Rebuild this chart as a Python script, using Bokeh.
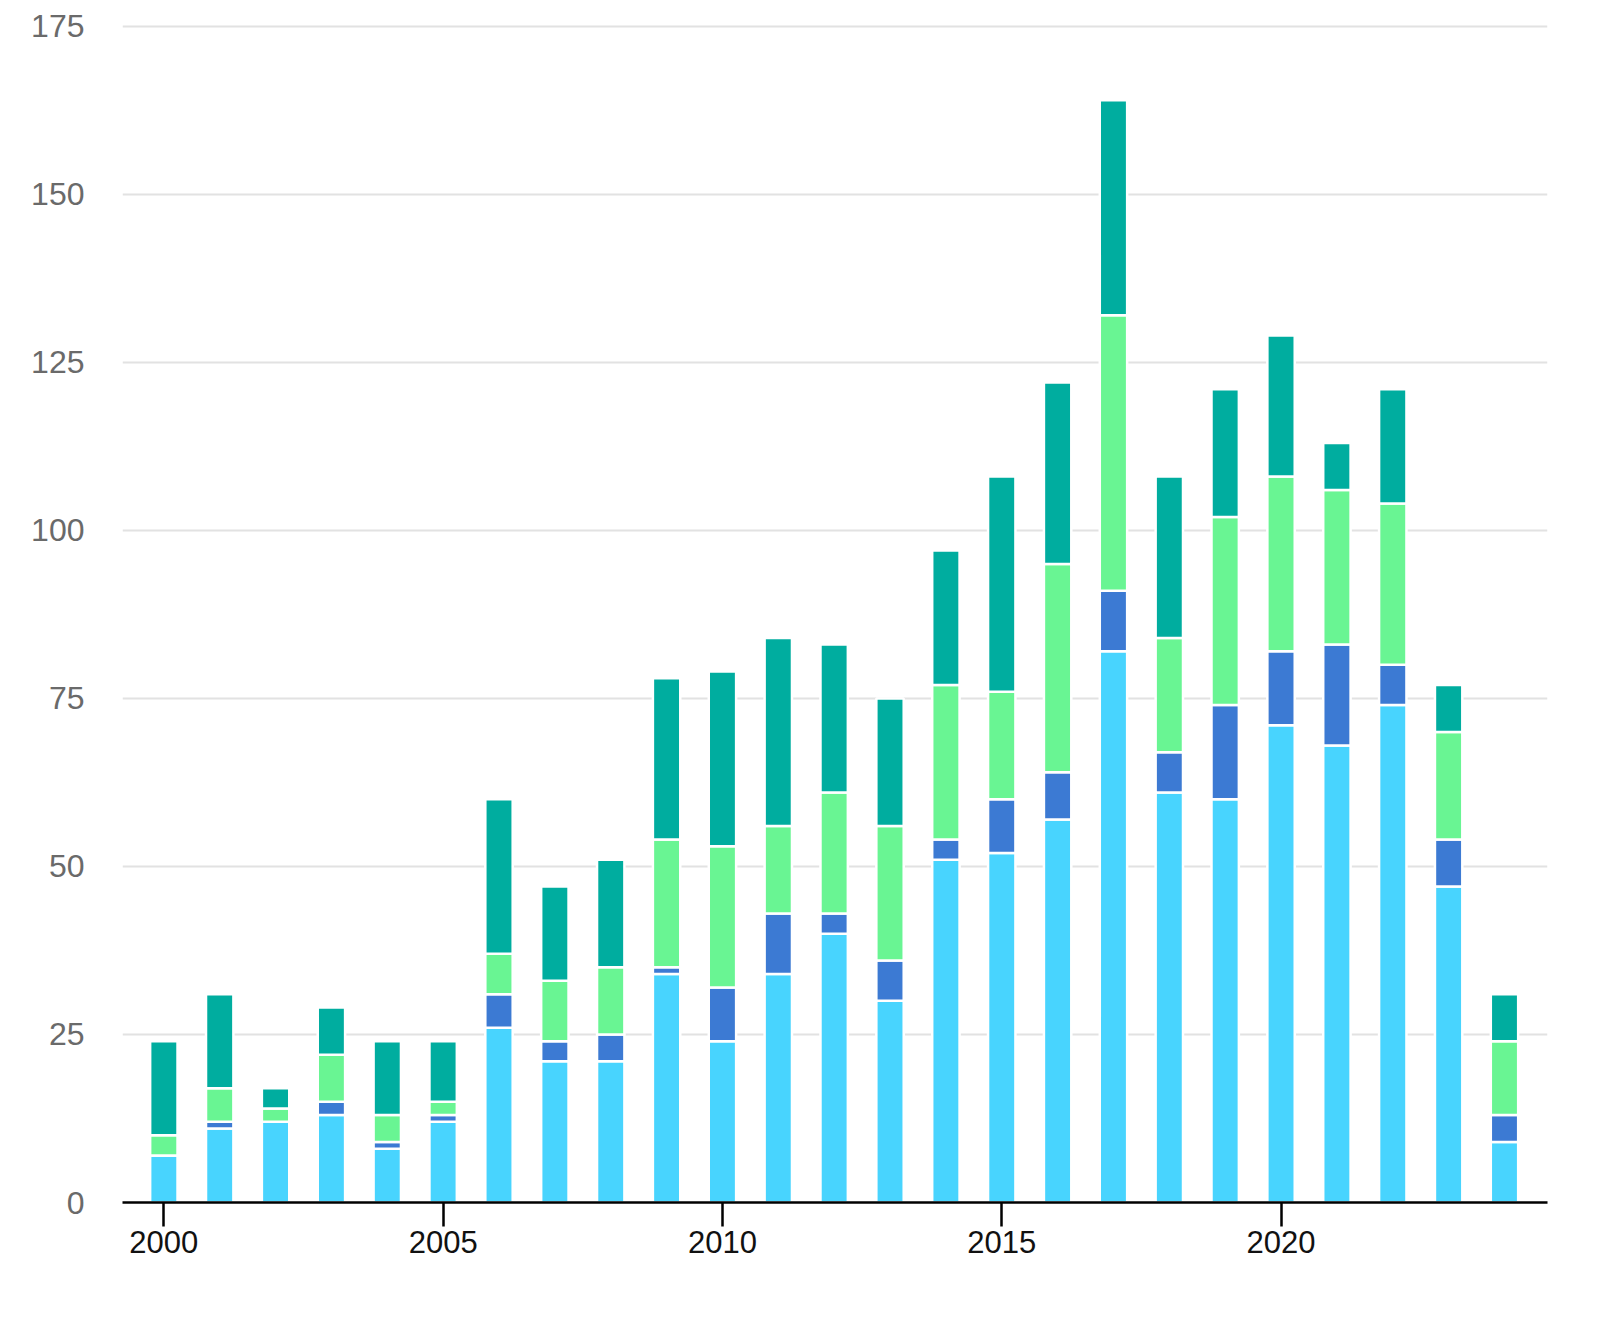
from bokeh.plotting import figure
from bokeh.models import ColumnDataSource, Range1d, FixedTicker
from bokeh.embed import file_html
from bokeh.resources import INLINE

# Yearly counts, stacked in four series (bottom to top)
years = list(range(2000, 2025))
series_a = [7, 11, 12, 13, 8, 12, 26, 21, 21, 34, 24, 34, 40, 30, 51, 52, 57, 82, 61, 60, 71, 68, 74, 47, 9]
series_b = [0, 1, 0, 2, 1, 1, 5, 3, 4, 1, 8, 9, 3, 6, 3, 8, 7, 9, 6, 14, 11, 15, 6, 7, 4]
series_c = [3, 5, 2, 7, 4, 2, 6, 9, 10, 19, 21, 13, 18, 20, 23, 16, 31, 41, 17, 28, 26, 23, 24, 16, 11]
series_d = [14, 14, 3, 7, 11, 9, 23, 14, 16, 24, 26, 28, 22, 19, 20, 32, 27, 32, 24, 19, 21, 7, 17, 7, 7]

series_names = ["series_a", "series_b", "series_c", "series_d"]
colors = ["#48D4FE", "#3C7AD3", "#69F593", "#00AD9F"]
y_ticks = [0, 25, 50, 75, 100, 125, 150, 175]
x_ticks = [2000, 2005, 2010, 2015, 2020]

source = ColumnDataSource(dict(
    year=years,
    series_a=series_a,
    series_b=series_b,
    series_c=series_c,
    series_d=series_d,
))

p = figure(
    width=1600, height=1333,
    output_backend="svg", toolbar_location=None,
    x_range=Range1d(1999.26, 2024.77),
    y_range=Range1d(0, 176.6),
    min_border_left=122, min_border_right=53,
    min_border_top=15, min_border_bottom=131,
)
p.outline_line_color = None
p.background_fill_color = "white"
p.border_fill_color = "white"

p.vbar_stack(series_names, x="year", width=0.49, source=source,
             color=colors, line_color="white", line_width=2.5)

font = "Liberation Sans"

# y axis: labels only, horizontal gridlines
p.yaxis.ticker = FixedTicker(ticks=y_ticks)
p.yaxis.axis_line_color = None
p.yaxis.major_tick_line_color = None
p.yaxis.minor_tick_line_color = None
p.yaxis.major_label_standoff = 32
p.yaxis.major_label_text_font = font
p.yaxis.major_label_text_font_size = "32px"
p.yaxis.major_label_text_color = "#6a6a6a"

p.ygrid.ticker = FixedTicker(ticks=y_ticks)
p.ygrid.grid_line_color = "#e2e2e2"
p.ygrid.grid_line_width = 2
p.xgrid.grid_line_color = None

# x axis: black baseline with ticks every five years
p.xaxis.ticker = FixedTicker(ticks=x_ticks)
p.xaxis.axis_line_color = "black"
p.xaxis.axis_line_width = 2.5
p.xaxis.major_tick_line_color = "black"
p.xaxis.major_tick_line_width = 2.5
p.xaxis.major_tick_out = 24
p.xaxis.major_tick_in = 0
p.xaxis.minor_tick_line_color = None
p.xaxis.major_label_standoff = 4
p.xaxis.major_label_text_font = font
p.xaxis.major_label_text_font_size = "31px"
p.xaxis.major_label_text_color = "#111111"

open("out.html", "w").write(file_html(p, INLINE))
